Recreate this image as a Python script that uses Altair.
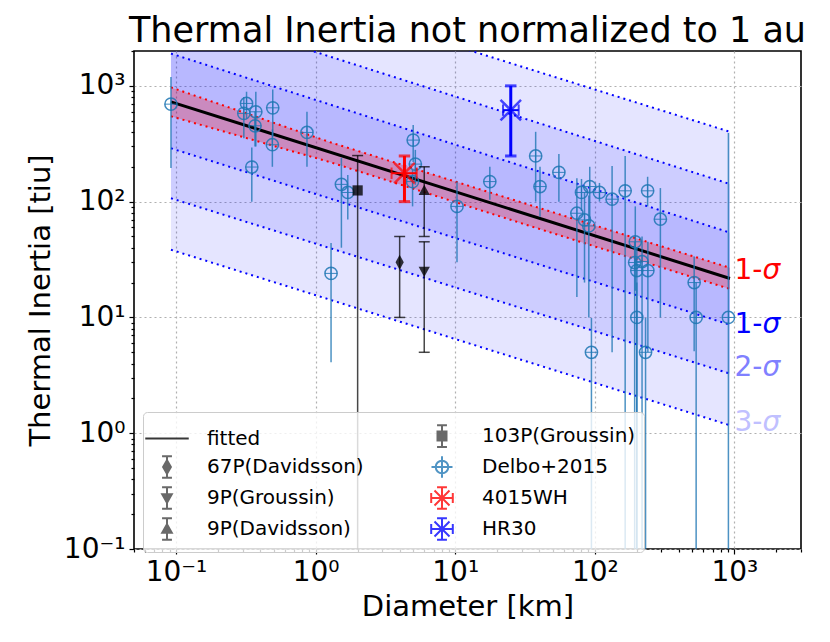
import altair as alt
import pandas as pd

# ---------------- data ----------------
# Delbo+2015 asteroids: diameter [km], thermal inertia, error-bar low / high
delbo_D = [0.092, 0.32, 0.306, 0.373, 0.368, 0.493, 0.49, 0.867, 0.349, 1.53, 1.70, 1.29,
           5.0, 5.18, 4.95, 10.3, 17.7, 37.7, 40.5, 55.3, 74.4, 80.3, 84.4, 92.0, 90.6,
           108, 133, 165, 239, 295, 195, 193, 200, 240, 218, 515, 94.6, 200, 231, 532, 906]
delbo_TI = [695, 705, 578, 597, 452, 646, 310, 396, 199, 141, 120, 24,
            340, 211, 149, 91, 149, 248, 135, 179, 79.4, 120, 69.5, 135, 61.7,
            120, 105, 124, 124, 70.5, 45, 29.8, 25.4, 25.4, 30.4, 20, 5.0, 10, 5.0, 10, 10]
delbo_lo = [195, 520, 353, 300, 300, 360, 200, 200, 100, 40, 70, 4.1,
            220, 140, 91, 30, 104, 100, 74, 100, 15, 83, 20, 70, 10,
            100, 5, 0.01, 91, 10, 17, 0.01, 0.01, 5, 0.01, 5.1, 0.01, 0.01, 0.01, 0.01, 0.01]
delbo_hi = [1195, 890, 803, 888, 600, 930, 420, 597, 294, 238, 170, 44,
            460, 280, 188, 149, 200, 401, 200, 258, 159, 157, 120, 200, 113,
            145, 203, 248, 164, 131, 91, 45, 40, 45, 50, 33.6, 9.9, 20, 9.9, 20, 391]

# comets (black symbols)
comet_name = ["67P(Davidsson)", "9P(Groussin)", "9P(Davidsson)", "103P(Groussin)"]
comet_D = [4.0, 6.0, 6.0, 2.0]
comet_TI = [30, 25, 125, 125]
comet_lo = [10, 5, 50, 0.01]
comet_hi = [50, 45, 200, 250]

# highlighted objects
obj_name = ["4015WH", "HR30"]
obj_D = [4.33, 25.0]
obj_Dlo = [3.5, 22.0]
obj_Dhi = [5.3, 28.5]
obj_TI = [176, 617]
obj_lo = [100, 248]
obj_hi = [248, 1000]

# fitted line (ends)
fit_D = [0.092, 930]
fit_TI = [728, 21.7]

# scatter bands (edges at both ends)
band_D = [0.092, 930]
band_up1 = [1900, 54]
band_lo1 = [289, 8.65]
band_up2 = [4900, 142]
band_lo2 = [107, 3.27]
band_up3 = [13000, 401]
band_lo3 = [38.4, 1.17]

# fit-uncertainty band (red)
red_D = [0.092, 1.26, 33.8, 930]
red_up = [970, 327, 94, 26.8]
red_lo = [546, 220, 62, 17.6]

# right-hand labels
lab_text = ["1-", "1-", "2-", "3-"]
lab_D = [1000, 1000, 1000, 1000]
lab_TI = [25, 8.65, 3.66, 1.23]
lab_color = ["#ff0000", "#0000ff", "#8080ff", "#c0c0ff"]

# ticks
x_ticks = [round(k * 10.0 ** d, 10) for d in range(-2, 4) for k in range(1, 10)]
x_ticks = [v for v in x_ticks if 0.05 <= v <= 3000]
y_ticks = [round(k * 10.0 ** d, 10) for d in range(-1, 4) for k in range(1, 10)]
y_ticks = [v for v in y_ticks if 0.1 <= v <= 2000]

FONT = "DejaVu Sans"

# ---------------- tables ----------------
delbo = pd.DataFrame({"D": delbo_D, "TI": delbo_TI, "lo": delbo_lo, "hi": delbo_hi})
comet_paths = {
    "67P(Davidsson)": "M0,-1L0.55,0L0,1L-0.55,0Z",
    "9P(Groussin)": "M-0.75,-0.6H0.75L0,0.75Z",
    "9P(Davidsson)": "M-0.75,0.6H0.75L0,-0.75Z",
    "103P(Groussin)": "M-0.68,-0.68H0.68V0.68H-0.68Z",
}
comets = pd.DataFrame({"name": comet_name, "D": comet_D, "TI": comet_TI,
                       "lo": comet_lo, "hi": comet_hi})
comets["shape"] = comets["name"].map(comet_paths)
comet_caps = pd.concat([comets[["D", "lo"]].rename(columns={"lo": "v"}),
                        comets[["D", "hi"]].rename(columns={"hi": "v"})])

objs = pd.DataFrame({"name": obj_name, "D": obj_D, "Dlo": obj_Dlo, "Dhi": obj_Dhi,
                     "TI": obj_TI, "lo": obj_lo, "hi": obj_hi})
objs["color"] = ["#ff0000", "#0000ff"]
obj_vcaps = pd.concat([objs[["D", "lo", "color"]].rename(columns={"lo": "v"}),
                       objs[["D", "hi", "color"]].rename(columns={"hi": "v"})])
obj_hcaps = pd.concat([objs[["Dlo", "TI", "color"]].rename(columns={"Dlo": "x"}),
                       objs[["Dhi", "TI", "color"]].rename(columns={"Dhi": "x"})])

fit = pd.DataFrame({"D": fit_D, "TI": fit_TI})

bands = pd.concat([
    pd.DataFrame({"D": band_D, "lo": band_lo3, "hi": band_up3, "band": "3"}),
    pd.DataFrame({"D": band_D, "lo": band_lo2, "hi": band_up2, "band": "2"}),
    pd.DataFrame({"D": band_D, "lo": band_lo1, "hi": band_up1, "band": "1"}),
])
band_edges = pd.concat([
    pd.DataFrame({"D": band_D, "TI": vals, "edge": name})
    for name, vals in [("u1", band_up1), ("l1", band_lo1), ("u2", band_up2),
                       ("l2", band_lo2), ("u3", band_up3), ("l3", band_lo3)]
])
red = pd.DataFrame({"D": red_D, "lo": red_lo, "hi": red_up})
red_edges = pd.concat([
    pd.DataFrame({"D": red_D, "TI": red_up, "edge": "u"}),
    pd.DataFrame({"D": red_D, "TI": red_lo, "edge": "l"}),
])
labels = pd.DataFrame({"t": lab_text, "D": lab_D, "TI": lab_TI, "c": lab_color})

# ---------------- scales / axes ----------------
major_test = "indexof([0.1,1,10,100,1000], datum.value) >= 0"
sup = ("datum.value == 0.1 ? '10\u207b\u00b9' : datum.value == 1 ? '10\u2070' : "
       "datum.value == 10 ? '10\u00b9' : datum.value == 100 ? '10\u00b2' : "
       "datum.value == 1000 ? '10\u00b3' : ''")

xscale = alt.Scale(type="log", domain=[0.05, 3000], nice=False)
yscale = alt.Scale(type="log", domain=[0.1, 2000], nice=False)

xaxis = alt.Axis(values=x_ticks, labelExpr=sup, title="Diameter [km]",
                 tickSize=alt.condition(major_test, alt.value(5), alt.value(3)),
                 gridOpacity=alt.condition(major_test, alt.value(1), alt.value(0)),
                 labelOverlap=False, labelFlush=False, labelPadding=4, titlePadding=6)
yaxis = alt.Axis(values=y_ticks, labelExpr=sup, title="Thermal Inertia [tiu]",
                 tickSize=alt.condition(major_test, alt.value(5), alt.value(3)),
                 gridOpacity=alt.condition(major_test, alt.value(1), alt.value(0)),
                 labelOverlap=False, labelFlush=False, labelPadding=4, titlePadding=8)


def X(field="D"):
    return alt.X(f"{field}:Q", scale=xscale, axis=xaxis)


def Y(field="TI"):
    return alt.Y(f"{field}:Q", scale=yscale, axis=yaxis)


# ---------------- layers ----------------
band_area = alt.Chart(bands).mark_area(color="blue", opacity=0.1, clip=True).encode(
    x=X(), y=Y("lo"), y2="hi", detail="band:N")
band_lines = alt.Chart(band_edges).mark_line(
    color="blue", strokeDash=[2, 4], strokeWidth=2, clip=True).encode(
    x=X(), y=Y(), detail="edge:N")
red_area = alt.Chart(red).mark_area(color="red", opacity=0.25, clip=True).encode(
    x=X(), y=Y("lo"), y2="hi")
red_lines = alt.Chart(red_edges).mark_line(
    color="red", strokeDash=[2, 4], strokeWidth=2, clip=True).encode(
    x=X(), y=Y(), detail="edge:N")
fit_line = alt.Chart(fit).mark_line(color="black", strokeWidth=3, clip=True).encode(
    x=X(), y=Y())

C0 = "#1f77b4"
delbo_err = alt.Chart(delbo).mark_rule(color=C0, strokeWidth=1.5, opacity=0.8, clip=True).encode(
    x=X(), y=Y("lo"), y2="hi")
delbo_circ = alt.Chart(delbo).mark_point(shape="circle", filled=False, size=150, color=C0,
                                         strokeWidth=1.5, opacity=0.85, clip=True).encode(
    x=X(), y=Y())
delbo_cross = alt.Chart(delbo).mark_point(shape="M-1,0H1M0,-1V1", filled=False, size=150,
                                          color=C0, strokeWidth=1, opacity=0.85, clip=True).encode(
    x=X(), y=Y())

comet_err = alt.Chart(comets).mark_rule(color="black", strokeWidth=1.5, opacity=0.72,
                                        clip=True).encode(x=X(), y=Y("lo"), y2="hi")
comet_cap = alt.Chart(comet_caps).mark_point(shape="M-1,0H1", filled=False, size=120,
                                             color="black", strokeWidth=1.5, opacity=0.72,
                                             clip=True).encode(x=X(), y=Y("v"))
comet_pts = alt.Chart(comets).mark_point(filled=True, size=225, color="black", opacity=0.78,
                                         clip=True).encode(
    x=X(), y=Y(), shape=alt.Shape("shape:N", scale=None))

obj_v = alt.Chart(objs).mark_rule(strokeWidth=3, clip=True).encode(
    x=X(), y=Y("lo"), y2="hi", color=alt.Color("color:N", scale=None))
obj_h = alt.Chart(objs).mark_rule(strokeWidth=2, clip=True).encode(
    x=X("Dlo"), x2="Dhi", y=Y(), color=alt.Color("color:N", scale=None))
obj_vc = alt.Chart(obj_vcaps).mark_point(shape="M-1,0H1", filled=False, size=130, strokeWidth=3,
                                         clip=True).encode(
    x=X(), y=Y("v"), color=alt.Color("color:N", scale=None))
obj_hc = alt.Chart(obj_hcaps).mark_point(shape="M0,-1V1", filled=False, size=130, strokeWidth=2,
                                         clip=True).encode(
    x=X("x"), y=Y(), color=alt.Color("color:N", scale=None))
obj_x = alt.Chart(objs).mark_point(shape="M-1,-1L1,1M-1,1L1,-1", filled=False, size=420,
                                   strokeWidth=2.5, clip=True).encode(
    x=X(), y=Y(), color=alt.Color("color:N", scale=None))

lab1 = alt.Chart(labels).mark_text(align="left", baseline="middle", font=FONT, fontSize=28).encode(
    x=X(), y=Y(), text="t:N", color=alt.Color("c:N", scale=None))
lab2 = alt.Chart(labels).mark_text(align="left", baseline="middle", font=FONT, fontSize=28,
                                   fontStyle="italic", dx=28).encode(
    x=X(), y=Y(), text=alt.value("\u03c3"), color=alt.Color("c:N", scale=None))

# ---------------- legend (from a scale domain, filled column by column) ----------------
leg_names = ["fitted", "67P(Davidsson)", "9P(Groussin)", "9P(Davidsson)",
             "103P(Groussin)", "Delbo+2015", "4015WH", "HR30"]
EB = "M0,-0.72V0.72M-0.33,-0.72H0.33M-0.33,0.72H0.33"
STAR = ("M-0.72,0H0.72M-0.72,-0.33V0.33M0.72,-0.33V0.33"
        "M-0.5,-0.5L0.5,0.5M-0.5,0.5L0.5,-0.5")
leg_shapes = [
    "M-1.45,0H1.45",
    EB + "M0,-0.45L0.26,0L0,0.45L-0.26,0Z",
    EB + "M-0.32,-0.25H0.32L0,0.32Z",
    EB + "M-0.32,0.25H0.32L0,-0.32Z",
    EB + "M-0.3,-0.3H0.3V0.3H-0.3Z",
    "M-0.42,0A0.42,0.42 0 1,0 0.42,0A0.42,0.42 0 1,0 -0.42,0M-0.7,0H0.7M0,-0.72V0.72",
    EB + STAR,
    EB + STAR,
]
dark = "#404040"
leg_stroke = ["black", dark, dark, dark, dark, C0, "#ff0000", "#0000ff"]
leg_fill = ["black", dark, dark, dark, dark, "transparent", "transparent", "transparent"]
legend_df = pd.DataFrame({"name": leg_names, "D": [1.0] * 8, "TI": [1.0] * 8})

leg = alt.Legend(title=None, orient="none", legendX=9, legendY=361, columns=2,
                 columnPadding=62, rowPadding=0, symbolSize=900, symbolStrokeWidth=2,
                 labelFont=FONT, labelFontSize=20, labelColor="black", labelOffset=24,
                 labelLimit=400, padding=8, fillColor="rgba(255,255,255,0.8)",
                 strokeColor="#cccccc", cornerRadius=4)
legend_layer = alt.Chart(legend_df).transform_filter("datum.D < 0").mark_point(clip=True).encode(
    x=X(), y=Y(),
    shape=alt.Shape("name:N", scale=alt.Scale(domain=leg_names, range=leg_shapes), legend=leg),
    stroke=alt.Stroke("name:N", scale=alt.Scale(domain=leg_names, range=leg_stroke), legend=leg),
    fill=alt.Fill("name:N", scale=alt.Scale(domain=leg_names, range=leg_fill), legend=leg),
)

chart = alt.layer(
    band_area, band_lines, red_area, red_lines, fit_line,
    delbo_err, delbo_circ, delbo_cross,
    comet_err, comet_cap, comet_pts,
    obj_v, obj_h, obj_vc, obj_hc, obj_x,
    lab1, lab2, legend_layer,
).properties(
    width=667, height=498,
    autosize=alt.AutoSizeParams(type="none"),
    padding={"left": 126, "top": 43, "right": 21, "bottom": 85},
    title=alt.TitleParams("Thermal Inertia not normalized to 1 au", font=FONT, fontSize=35,
                          fontWeight="normal", color="black", anchor="middle", offset=8, dy=20),
).configure_view(
    stroke="black", strokeWidth=1.6
).configure_axis(
    labelFont=FONT, labelFontSize=28, labelColor="black",
    titleFont=FONT, titleFontSize=29, titleFontWeight="normal", titleColor="black",
    tickColor="black", tickWidth=1.2, domain=False,
    gridColor="#b0b0b0", gridDash=[2, 3], gridWidth=1.2,
)

chart.save("out.html", embed_options={"renderer": "svg", "actions": False})
